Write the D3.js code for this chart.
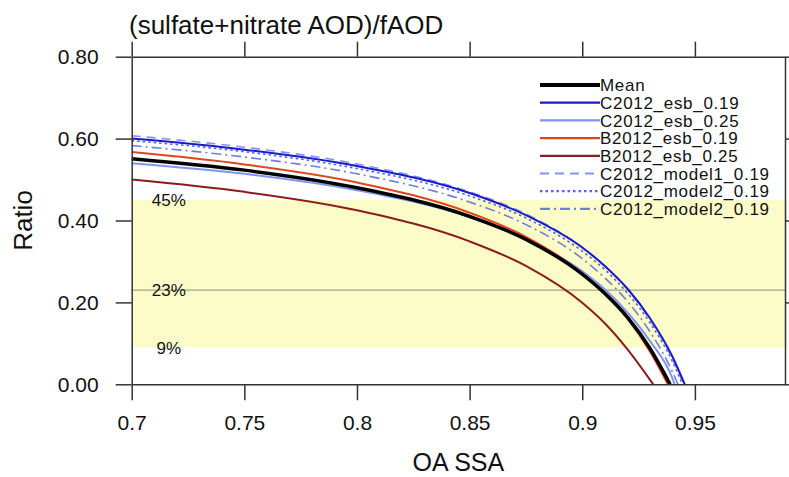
<!DOCTYPE html>
<html>
<head>
<meta charset="utf-8">
<script src="https://cdn.jsdelivr.net/npm/d3@7"></script>
<style>
  body { margin: 0; background: #fff; }
  svg { display: block; font-family: "Liberation Sans", Arial, sans-serif; }
  .axis path, .axis line { stroke: #333; stroke-width: 1.5; }
  .axis text { fill: #111; font-size: 21px; font-family: "Liberation Sans", Arial, sans-serif; }
</style>
</head>
<body>
<div id="chart"></div>
<script>
// OA SSA grid where curves were read (each curve stops where it hits zero)
const ssa = [0.70, 0.75, 0.80, 0.85, 0.875, 0.90, 0.91, 0.92, 0.93, 0.94];

// ratio values per curve
const meanVals   = [0.551, 0.523, 0.480, 0.410, 0.354, 0.269, 0.222, 0.164, 0.088];
const c19Vals    = [0.600, 0.573, 0.533, 0.467, 0.413, 0.334, 0.289, 0.234, 0.162, 0.068];
const c25Vals    = [0.540, 0.514, 0.474, 0.408, 0.355, 0.276, 0.232, 0.176, 0.106, 0.015];
const b19Vals    = [0.567, 0.537, 0.493, 0.419, 0.360, 0.271, 0.222, 0.161, 0.081];
const b25Vals    = [0.500, 0.470, 0.425, 0.349, 0.289, 0.199, 0.149, 0.086];
const m1Vals     = [0.607, 0.579, 0.538, 0.470, 0.416, 0.334, 0.289, 0.232, 0.158, 0.063];
const m2dotVals  = [0.595, 0.568, 0.527, 0.460, 0.406, 0.325, 0.280, 0.223, 0.151, 0.056];
const m2dashVals = [0.583, 0.555, 0.514, 0.445, 0.390, 0.307, 0.260, 0.203, 0.129, 0.031];

// SSA where each curve reaches zero
const zeroAt = [0.939, 0.9455, 0.941, 0.938, 0.9315, 0.945, 0.9445, 0.9425];

const names = ["Mean", "C2012_esb_0.19", "C2012_esb_0.25", "B2012_esb_0.19", "B2012_esb_0.25",
               "C2012_model1_0.19", "C2012_model2_0.19", "C2012_model2_0.19"];

// shaded range and its labels
const bandLow = 0.09, bandMid = 0.23, bandHigh = 0.45;
const bandLabels = ["45%", "23%", "9%"];

const xTicks = [0.7, 0.75, 0.8, 0.85, 0.9, 0.95];
const yTicks = [0, 0.2, 0.4, 0.6, 0.8];

const allVals = [meanVals, c19Vals, c25Vals, b19Vals, b25Vals, m1Vals, m2dotVals, m2dashVals];
const colors = ["#000000", "#1a1ac8", "#7f95f5", "#e0461e", "#8c1c1c", "#7f95f5", "#4f63f0", "#6d80d8"];
const widths = [3.5, 2, 2, 2, 2, 1.6, 1.6, 1.6];
const dashes = [null, null, null, null, null, "9,6", "2.5,3", "10,4,2,4"];

const width = 789, height = 477;
const plotL = 131.7, plotR = 785, plotT = 56.7, plotB = 384.3;

const svg = d3.select("#chart").append("svg")
  .attr("width", width).attr("height", height);

const x = d3.scaleLinear().domain([0.7, 0.99]).range([plotL, plotR]);
const y = d3.scaleLinear().domain([0, 0.8]).range([plotB, plotT]);

// yellow band
svg.append("rect")
  .attr("x", x(0.7)).attr("width", x(0.99) - x(0.7))
  .attr("y", y(bandHigh)).attr("height", y(bandLow) - y(bandHigh))
  .attr("fill", "#fcfcc9");

svg.append("line")
  .attr("x1", x(0.7)).attr("x2", x(0.99))
  .attr("y1", y(bandMid)).attr("y2", y(bandMid))
  .attr("stroke", "#a2a28a").attr("stroke-width", 1.3);

svg.selectAll(".band-label")
  .data([bandHigh, bandMid, bandLow])
  .enter().append("text")
  .attr("class", "band-label")
  .attr("x", x(0.7165))
  .attr("y", d => y(d))
  .attr("dy", "0.36em")
  .attr("text-anchor", "middle")
  .style("font-size", "17px")
  .attr("fill", "#111")
  .text((d, i) => bandLabels[i]);

// curves
const line = d3.line().x(d => x(d[0])).y(d => y(d[1])).curve(d3.curveMonotoneX);
const order = [4, 2, 3, 0, 7, 6, 5, 1];
order.forEach(i => {
  const pts = allVals[i].map((v, j) => [ssa[j], v]);
  pts.push([zeroAt[i], 0]);
  svg.append("path")
    .datum(pts)
    .attr("fill", "none")
    .attr("stroke", colors[i])
    .attr("stroke-width", widths[i])
    .attr("stroke-dasharray", dashes[i])
    .attr("d", line);
});

// axes
svg.append("g").attr("class", "axis")
  .attr("transform", `translate(0,${plotB})`)
  .call(d3.axisBottom(x).tickValues(xTicks).tickFormat(d => String(d))
    .tickSize(16).tickSizeOuter(0).tickPadding(15));

svg.append("g").attr("class", "axis")
  .attr("transform", `translate(0,${plotT})`)
  .call(d3.axisTop(x).tickValues(xTicks).tickFormat("").tickSize(15).tickSizeOuter(0));

svg.append("g").attr("class", "axis")
  .attr("transform", `translate(${plotL},0)`)
  .call(d3.axisLeft(y).tickValues(yTicks).tickFormat(d3.format(".2f"))
    .tickSize(16).tickSizeOuter(0).tickPadding(17));

svg.append("g").attr("class", "axis")
  .attr("transform", `translate(${plotR},0)`)
  .call(d3.axisRight(y).tickValues(yTicks).tickFormat("").tickSize(15).tickSizeOuter(0));

// titles
svg.append("text")
  .attr("x", 129).attr("y", 34)
  .style("font-size", "26px").attr("fill", "#111")
  .text("(sulfate+nitrate AOD)/fAOD");

svg.append("text")
  .attr("x", (plotL + plotR) / 2).attr("y", 471)
  .attr("text-anchor", "middle")
  .style("font-size", "25px").attr("fill", "#111")
  .text("OA SSA");

svg.append("text")
  .attr("transform", `translate(32,${(plotT + plotB) / 2}) rotate(-90)`)
  .attr("text-anchor", "middle")
  .style("font-size", "26px").attr("fill", "#111")
  .text("Ratio");

// legend
const legend = svg.append("g").attr("transform", "translate(540,85)");
names.forEach((n, i) => {
  const row = legend.append("g").attr("transform", `translate(0,${i * 17.7})`);
  row.append("line")
    .attr("x1", 0).attr("x2", 60)
    .attr("stroke", colors[i])
    .attr("stroke-width", i === 0 ? 4 : 2.2)
    .attr("stroke-dasharray", dashes[i]);
  row.append("text")
    .attr("x", 60).attr("dy", "0.36em")
    .style("font-size", "17px")
    .style("letter-spacing", "0.7px")
    .attr("fill", "#111")
    .text(n);
});
</script>
</body>
</html>
